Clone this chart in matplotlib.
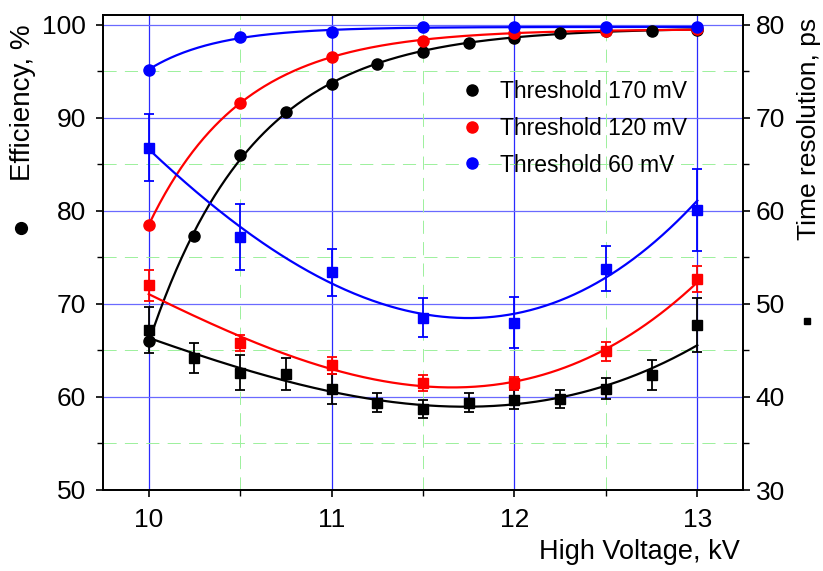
import numpy as np
import matplotlib
matplotlib.use("Agg")
import matplotlib.pyplot as plt
from matplotlib.ticker import MultipleLocator
from matplotlib.lines import Line2D

plt.rcParams['font.family'] = ['Liberation Sans', 'DejaVu Sans']

# ---------------- data ----------------
hv_fine = [10.0, 10.25, 10.5, 10.75, 11.0, 11.25, 11.5, 11.75, 12.0, 12.25, 12.5, 12.75, 13.0]
hv_coarse = [10.0, 10.5, 11.0, 11.5, 12.0, 12.5, 13.0]

eff_170 = [66.0, 77.3, 86.0, 90.6, 93.7, 95.8, 97.1, 98.1, 98.6, 99.1, 99.35, 99.4, 99.5]
eff_120 = [78.5, 91.6, 96.6, 98.3, 99.1, 99.35, 99.6]
eff_60 = [95.2, 98.7, 99.2, 99.8, 99.8, 99.8, 99.8]

tr_170 = [47.2, 44.2, 42.6, 42.5, 40.9, 39.4, 38.7, 39.4, 39.7, 39.8, 40.9, 42.4, 47.7]
tr_170_err = [2.5, 1.6, 1.9, 1.7, 1.6, 1.0, 1.0, 1.0, 1.0, 1.0, 1.1, 1.6, 2.9]
tr_120 = [52.0, 45.8, 43.4, 41.5, 41.5, 44.9, 52.65]
tr_120_err = [1.7, 0.9, 0.9, 0.85, 0.7, 1.0, 1.4]
tr_60 = [66.8, 57.2, 53.4, 48.5, 48.0, 53.8, 60.1]
tr_60_err = [3.6, 3.5, 2.5, 2.1, 2.7, 2.4, 4.4]

labels = ["Threshold 170 mV", "Threshold 120 mV", "Threshold 60 mV"]
colors = ["#000000", "#ff0000", "#0000ff"]


def fit_eff(x, y):
    x = np.asarray(x); y = np.asarray(y)
    best = None
    for t in np.linspace(0.05, 2.0, 800):
        M = np.column_stack([np.ones_like(x), -np.exp(-(x - 10) / t)])
        c, *_ = np.linalg.lstsq(M, y, rcond=None)
        r = np.sum((M @ c - y) ** 2)
        if best is None or r < best[0]:
            best = (r, t, c)
    _, t, c = best
    xs = np.linspace(x.min(), x.max(), 300)
    return xs, c[0] - c[1] * np.exp(-(xs - 10) / t)


def fit_tr(x, y, e):
    x = np.asarray(x); y = np.asarray(y); e = np.asarray(e)
    p = np.polyfit(x, y, 3, w=1 / e)
    xs = np.linspace(x.min(), x.max(), 300)
    return xs, np.polyval(p, xs)


W, H = 823, 571
fig = plt.figure(figsize=(W / 100, H / 100), dpi=100)
ax1 = fig.add_axes([103 / W, 1 - 490 / H, (743 - 103) / W, (490 - 15) / H])
ax2 = ax1.twinx()

ax1.set_xlim(9.75, 13.25)
ax1.set_ylim(50, 101.07)
ax2.set_ylim(30, 81.07)

# grid
for xv in [10, 11, 12, 13]:
    ax1.axvline(xv, color='#2a2aff', lw=0.9, zorder=0)
for yv in [60, 70, 80, 90, 100]:
    ax1.axhline(yv, color='#6a6aff', lw=0.9, zorder=0)
minor_style = dict(color='#9cf09c', lw=0.7, ls=(0, (13.5, 8.5)), zorder=0)
for xv in [10.5, 11.5, 12.5]:
    ax1.axvline(xv, **minor_style)
for yv in [55, 65, 75, 85, 95]:
    ax1.axhline(yv, **minor_style)

# efficiency
eff_sets = [(hv_fine, eff_170), (hv_coarse, eff_120), (hv_coarse, eff_60)]
handles = []
for (x, y), c, lab in zip(eff_sets, colors, labels):
    xs, ys = fit_eff(x, y)
    ax1.plot(xs, ys, color=c, lw=1.6, zorder=3)
    h, = ax1.plot(x, y, 'o', color=c, ms=8, zorder=4, label=lab)
    handles.append(h)

# time resolution
tr_sets = [(hv_fine, tr_170, tr_170_err), (hv_coarse, tr_120, tr_120_err), (hv_coarse, tr_60, tr_60_err)]
for (x, y, e), c in zip(tr_sets, colors):
    xs, ys = fit_tr(x, y, e)
    ax2.plot(xs, ys, color=c, lw=1.6, zorder=3)
    ax2.errorbar(x, y, yerr=e, fmt='s', color=c, ms=6.5, capsize=3.6, elinewidth=1.3,
                 capthick=1.3, zorder=4)

# ticks
ax1.xaxis.set_major_locator(MultipleLocator(1))
ax1.xaxis.set_minor_locator(MultipleLocator(0.5))
ax1.yaxis.set_major_locator(MultipleLocator(10))
ax1.yaxis.set_minor_locator(MultipleLocator(5))
ax2.yaxis.set_major_locator(MultipleLocator(10))
ax2.yaxis.set_minor_locator(MultipleLocator(5))
for a in (ax1, ax2):
    a.tick_params(which='major', direction='out', length=5, width=1.2, labelsize=19)
    a.tick_params(which='minor', direction='out', length=4, width=1.0)
ax1.tick_params(axis='y', which='both', right=False, pad=7)
ax1.tick_params(axis='x', which='both', top=False, pad=8)
ax2.tick_params(axis='y', pad=4)
for a in (ax1, ax2):
    for s in a.spines.values():
        s.set_linewidth(1.3)

# labels
fig.text(23 / W, 1 - 103 / H, "Efficiency, %", rotation=90, ha='center', va='center', fontsize=20)
fig.add_artist(Line2D([20.7 / W], [1 - 228 / H], marker='o', ms=8.5, color='black',
                      transform=fig.transFigure))
fig.text(809 / W, 1 - 129 / H, "Time resolution, ps", rotation=90, ha='center', va='center', fontsize=19)
fig.add_artist(Line2D([807 / W], [1 - 321 / H], marker='s', ms=5, color='black',
                      transform=fig.transFigure))
fig.text(740 / W, 1 - 552 / H, "High Voltage, kV", ha='right', va='center', fontsize=19.5)

leg = ax2.legend(handles, labels, loc='upper left', bbox_to_anchor=(461 / W, 1 - 80 / H),
                 bbox_transform=fig.transFigure, frameon=False, fontsize=16.5,
                 handlelength=1.0, handletextpad=0.7, labelspacing=0.6, borderpad=0,
                 borderaxespad=0, markerscale=1.0)

fig.savefig("out.png", dpi=100)
